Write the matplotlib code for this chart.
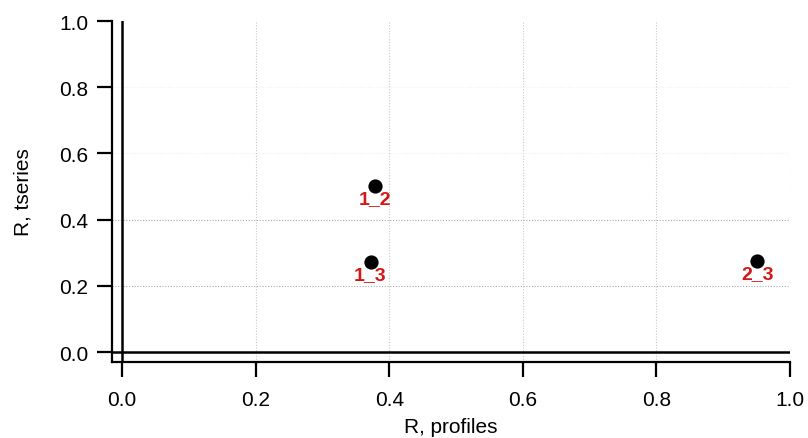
import matplotlib
matplotlib.use("Agg")
import matplotlib.pyplot as plt

plt.rcParams['font.family'] = ['Liberation Sans', 'DejaVu Sans']

labels = ["1_2", "1_3", "2_3"]
r_profiles = [0.378, 0.372, 0.951]
r_tseries = [0.502, 0.271, 0.276]

xticks = [0.0, 0.2, 0.4, 0.6, 0.8, 1.0]
yticks = [0.0, 0.2, 0.4, 0.6, 0.8, 1.0]

fig = plt.figure(figsize=(8.08, 4.39), dpi=100)
ax = fig.add_axes([112/808, 1 - 363/439, (790-112)/808, (363-22)/439])

ax.set_xlim(-0.015, 1.0)
ax.set_ylim(-0.03, 1.0)

# grid
for x in xticks[1:]:
    ax.axvline(x, color='#c8c8c8', lw=0.8, ls=(0, (1, 1.5)), zorder=0)
for y in yticks[1:3]:
    ax.axhline(y, color='#a8a8a8', lw=0.8, ls=(0, (1, 1.5)), zorder=0)
for y in yticks[3:5]:
    ax.axhline(y, color='#f0f0f0', lw=0.8, ls=(0, (1, 1.5)), zorder=0)

# zero lines
ax.axvline(0, color='black', lw=1.8, zorder=1)
ax.axhline(0, color='black', lw=1.8, zorder=1)

ax.scatter(r_profiles, r_tseries, s=105, color='black', zorder=3, linewidths=0)
for lab, x, y in zip(labels, r_profiles, r_tseries):
    ax.annotate(lab, (x, y), xytext=(0, -3), textcoords='offset points',
                ha='center', va='top', color='#d01818', fontsize=14,
                fontweight='bold', zorder=4)

for s in ['top', 'right']:
    ax.spines[s].set_visible(False)
for s in ['left', 'bottom']:
    ax.spines[s].set_linewidth(1.6)

ax.set_xticks(xticks)
ax.set_yticks(yticks)
ax.set_xticklabels([f"{v:.1f}" for v in xticks])
ax.set_yticklabels([f"{v:.1f}" for v in yticks])
ax.tick_params(axis='both', direction='out', length=11, width=1.6,
               labelsize=15, colors='black')
ax.tick_params(axis='y', pad=6)
ax.tick_params(axis='x', pad=9)

ax.set_xlabel("R, profiles", fontsize=15, labelpad=6)
ax.set_ylabel("R, tseries", fontsize=15, labelpad=19)

fig.savefig("out.png", dpi=100)
